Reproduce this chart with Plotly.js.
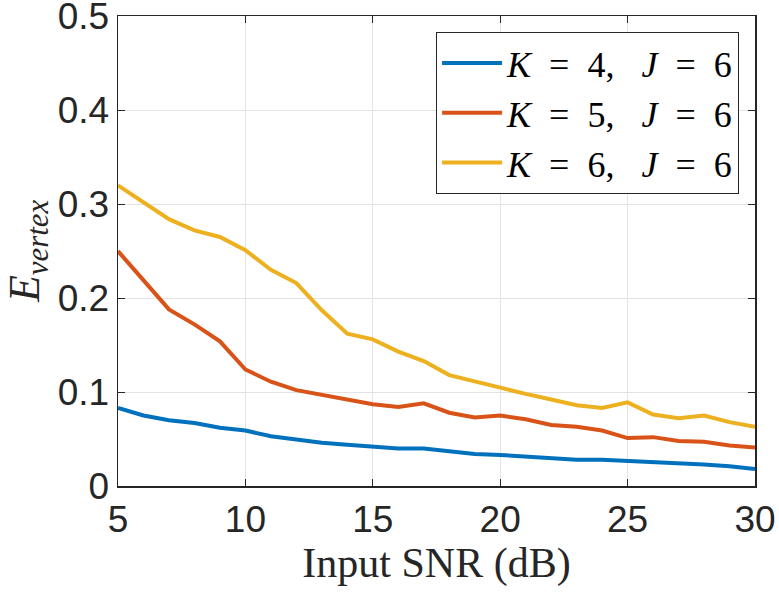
<!DOCTYPE html>
<html>
<head>
<meta charset="utf-8">
<script src="https://cdn.plot.ly/plotly-3.0.1.min.js"></script>
<style>
  html, body { margin: 0; padding: 0; background: #fff; }
  #myDiv { width: 779px; height: 592px; }
</style>
</head>
<body>
<div id="myDiv"></div>
<script>
var snr = [5, 6, 7, 8, 9, 10, 11, 12, 13, 14, 15, 16, 17, 18, 19, 20, 21, 22, 23, 24, 25, 26, 27, 28, 29, 30];

var errK4 = [0.083, 0.075, 0.070, 0.067, 0.062, 0.059, 0.053, 0.049, 0.046, 0.044, 0.042, 0.040, 0.040,
             0.037, 0.034, 0.033, 0.031, 0.030, 0.028, 0.028, 0.027, 0.025, 0.024, 0.023, 0.021, 0.018];
var errK5 = [0.250, 0.219, 0.188, 0.172, 0.154, 0.124, 0.111, 0.102, 0.097, 0.092, 0.087, 0.084, 0.088,
             0.078, 0.073, 0.075, 0.071, 0.065, 0.063, 0.059, 0.051, 0.052, 0.048, 0.047, 0.043, 0.041];
var errK6 = [0.320, 0.302, 0.284, 0.272, 0.265, 0.251, 0.230, 0.216, 0.187, 0.162, 0.156, 0.143, 0.133,
             0.118, 0.111, 0.105, 0.098, 0.092, 0.086, 0.083, 0.089, 0.076, 0.072, 0.075, 0.068, 0.063];

var yTicks = [0, 0.1, 0.2, 0.3, 0.4, 0.5];
var yTickText = ['0', '0.1', '0.2', '0.3', '0.4', '0.5'];
var xTicks = [5, 10, 15, 20, 25, 30];

var seriesNames = [
  '<i>K</i>&nbsp;&nbsp;=&nbsp;&nbsp;4,&nbsp;&nbsp;&nbsp;<i>J</i>&nbsp;&nbsp;=&nbsp;&nbsp;6',
  '<i>K</i>&nbsp;&nbsp;=&nbsp;&nbsp;5,&nbsp;&nbsp;&nbsp;<i>J</i>&nbsp;&nbsp;=&nbsp;&nbsp;6',
  '<i>K</i>&nbsp;&nbsp;=&nbsp;&nbsp;6,&nbsp;&nbsp;&nbsp;<i>J</i>&nbsp;&nbsp;=&nbsp;&nbsp;6'
];
var colors = ['#0072BD', '#D95319', '#EDB120'];
var series = [errK4, errK5, errK6];

var data = series.map(function (ys, i) {
  return {
    x: snr,
    y: ys,
    name: seriesNames[i],
    type: 'scatter',
    mode: 'lines',
    line: { color: colors[i], width: 4 }
  };
});

var tickFont = { family: 'Liberation Sans, Arial, sans-serif', size: 37, color: '#262626' };
var serif = 'Liberation Serif, Times New Roman, serif';

var layout = {
  width: 779,
  height: 592,
  margin: { l: 118, r: 24, t: 16, b: 106 },
  paper_bgcolor: '#fff',
  plot_bgcolor: '#fff',
  showlegend: true,
  legend: {
    x: 0.975, y: 0.966, xanchor: 'right', yanchor: 'top',
    bgcolor: '#fff', bordercolor: '#262626', borderwidth: 1,
    font: { family: serif, size: 36, color: '#000' },
    itemwidth: 60,
    tracegroupgap: 0
  },
  xaxis: {
    range: [5, 30],
    tickvals: xTicks,
    tickfont: tickFont,
    ticks: 'inside', ticklen: 7, tickcolor: '#262626',
    showline: true, linecolor: '#262626', linewidth: 1.5, mirror: 'ticks',
    showgrid: true, gridcolor: '#e3e3e3', gridwidth: 1,
    zeroline: false,
    ticklabeloverflow: 'allow',
    title: {
      text: 'Input SNR (dB)',
      font: { family: serif, size: 42, color: '#262626' },
      standoff: 2
    }
  },
  yaxis: {
    range: [0, 0.5002],
    tickvals: yTicks,
    ticktext: yTickText,
    tickfont: tickFont,
    ticks: 'inside', ticklen: 7, tickcolor: '#262626',
    showline: true, linecolor: '#262626', linewidth: 1.5, mirror: 'ticks',
    showgrid: true, gridcolor: '#e3e3e3', gridwidth: 1,
    zeroline: false,
    ticklabeloverflow: 'allow',
    title: {
      text: '<i>E</i><sub><i>vertex</i></sub>',
      font: { family: serif, size: 44, color: '#262626' },
      standoff: 16
    }
  }
};

Plotly.newPlot('myDiv', data, layout, { displayModeBar: false, staticPlot: true });
</script>
</body>
</html>
